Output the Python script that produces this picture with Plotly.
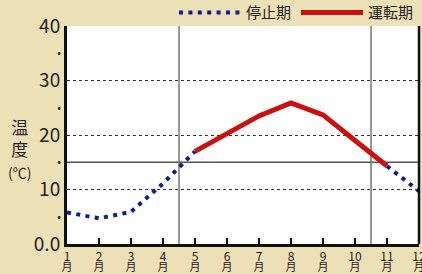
import plotly.graph_objects as go

months = list(range(1, 13))
month_nums = [str(m) for m in months]
month_unit = ["月"] * len(months)
stop_temp = [5.8, 4.7, 5.9, 11.1, 17.0, None, None, None, None, None, 14.3, 9.7]
run_temp = [None, None, None, None, 17.0, 20.3, 23.5, 25.9, 23.7, 19.0, 14.3, None]
major_ticks = [0, 10, 20, 30, 40]
major_labels = ["0.0", "10", "20", "30", "40"]
minor_ticks = [5, 15, 25, 35]
minor_labels = ["•", "•", "•", "•"]
ref_temp = 15
season_bounds = [4.5, 10.5]

BG = "#ede0b6"
FONT = "Noto Sans CJK JP"

fig = go.Figure()
fig.add_trace(go.Scatter(
    x=months, y=stop_temp, mode="lines", name="停止期",
    line=dict(color="#0e1f8e", width=4, dash="4px,5.4px"),
    connectgaps=False,
))
fig.add_trace(go.Scatter(
    x=months, y=run_temp, mode="lines", name="運転期",
    line=dict(color="#cc1010", width=5),
))
fig.add_trace(go.Scatter(x=[1], y=[0], xaxis="x2", yaxis="y2", mode="markers",
                         marker=dict(opacity=0), showlegend=False, hoverinfo="skip"))

fig.add_shape(type="line", xref="paper", x0=0, x1=1, yref="y", y0=ref_temp, y1=ref_temp,
              line=dict(color="#555555", width=1.5), layer="below")
for b in season_bounds:
    fig.add_shape(type="line", xref="x", x0=b, x1=b, yref="paper", y0=0, y1=1,
                  line=dict(color="#777777", width=1.5), layer="below")
fig.add_shape(type="line", xref="paper", x0=1, x1=1, yref="paper", y0=0, y1=1,
              line=dict(color="#111111", width=2.5))

fig.add_annotation(
    text="温<br>度<br><span style='font-size:14px'>(℃)</span>",
    xref="paper", yref="paper", x=-0.135, y=0.44, xanchor="center", yanchor="middle",
    showarrow=False, font=dict(family=FONT, size=17, color="#222222"), align="center",
)

fig.update_layout(
    width=422, height=274,
    margin=dict(l=67, r=3, t=26, b=30, autoexpand=False),
    paper_bgcolor=BG, plot_bgcolor="white",
    font=dict(family=FONT, color="#222222"),
    showlegend=True,
    legend=dict(orientation="h", x=1.0, xanchor="right", y=0.985, yanchor="bottom",
                bgcolor="rgba(0,0,0,0)", font=dict(size=15, family=FONT, color="#222222"),
                itemwidth=62, traceorder="normal", tracegroupgap=0),
    xaxis=dict(range=[1, 12], tickvals=months, ticktext=month_nums,
               tickfont=dict(size=12, family=FONT, color="#222222"),
               ticks="inside", ticklen=6, tickwidth=2.5, tickcolor="#111111",
               ticklabeloverflow="allow", ticklabelstandoff=0,
               showline=True, linecolor="#111111", linewidth=3,
               showgrid=False, zeroline=False, fixedrange=True, automargin=False),
    xaxis2=dict(range=[1, 12], overlaying="x", side="bottom", tickvals=months,
                ticktext=month_unit, tickfont=dict(size=11, family=FONT, color="#222222"),
                ticks="", ticklabeloverflow="allow", ticklabelstandoff=15,
                showline=False, showgrid=False, zeroline=False, automargin=False),
    yaxis=dict(range=[0, 40], tickvals=major_ticks, ticktext=major_labels,
               tickfont=dict(size=19, family=FONT, color="#222222"),
               ticks="", showline=True, linecolor="#111111", linewidth=3,
               showgrid=True, gridcolor="#333333", gridwidth=1, griddash="3px,3px",
               zeroline=False, fixedrange=True, automargin=False),
    yaxis2=dict(range=[0, 40], overlaying="y", side="left", tickvals=minor_ticks,
                ticktext=minor_labels, tickfont=dict(size=11, color="#222222"),
                ticklabelstandoff=5,
                showgrid=False, showline=False, zeroline=False, ticks="", automargin=False),
)

fig.write_html("out.html", config={"displayModeBar": False, "staticPlot": True},
               post_script="document.body.style.margin='0';document.body.style.padding='0';")
